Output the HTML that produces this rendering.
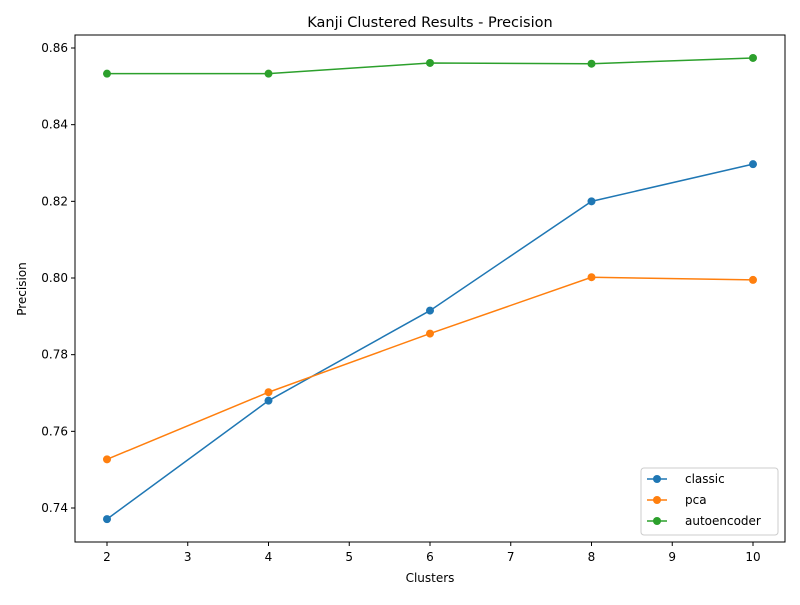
<!DOCTYPE html>
<html><head><meta charset="utf-8"><style>
body{margin:0;background:#fff;}
svg{font-family:"DejaVu Sans","Liberation Sans",sans-serif;}
</style></head><body>
<svg id="c" width="800" height="600" viewBox="0 0 800 600"></svg>
<script>
const clusters=[2,4,6,8,10];
const classic=[0.7371,0.7680,0.7915,0.8200,0.8297];
const pca=[0.7527,0.7702,0.7855,0.8002,0.7995];
const autoencoder=[0.8533,0.8533,0.8561,0.8559,0.8574];
const xTicks=[2,3,4,5,6,7,8,9,10];
const yTicks=[0.74,0.76,0.78,0.80,0.82,0.84,0.86];
const seriesNames=["classic","pca","autoencoder"];
const seriesColors=["#1f77b4","#ff7f0e","#2ca02c"];

const L=75,R=785,T=35,B=542;
const x=v=>107+(v-2)*80.75;
const y=v=>508-(v-0.74)*3833.33;
const svg=document.getElementById('c');
const NS='http://www.w3.org/2000/svg';
function mk(tag,attrs,parent){const e=document.createElementNS(NS,tag);for(const k in attrs)e.setAttribute(k,attrs[k]);(parent||svg).appendChild(e);return e;}

const frame=mk('rect',{x:L,y:T,width:R-L,height:B-T,fill:'none',stroke:'#000','stroke-width':1});



xTicks.forEach(t=>{
  const g=mk('g',{});
  
  
  mk('line',{x1:x(t),x2:x(t),y1:B,y2:B+4,stroke:'#000'},g);
  const tx=mk('text',{x:x(t),y:B+19,'text-anchor':'middle','font-size':12},g);tx.textContent=t;
});
yTicks.forEach(t=>{
  const g=mk('g',{});
  
  
  mk('line',{x1:L-4,x2:L,y1:y(t),y2:y(t),stroke:'#000'},g);
  const tx=mk('text',{x:L-7,y:y(t)+4,'text-anchor':'end','font-size':12},g);tx.textContent=t.toFixed(2);
});

[classic,pca,autoencoder].forEach((data,i)=>{
  const g=mk('g',{});
  
  
  mk('polyline',{points:data.map((v,j)=>x(clusters[j])+','+y(v)).join(' '),fill:'none',stroke:seriesColors[i],'stroke-width':1.5},g);
  data.forEach((v,j)=>{
    const p=mk('circle',{cx:x(clusters[j]),cy:y(v),r:4,fill:seriesColors[i]},g);
    
    
  });
});

const title=mk('text',{x:430,y:27,'text-anchor':'middle','font-size':14.5});
title.textContent='Kanji Clustered Results - Precision';


const xt=mk('text',{x:430,y:582,'text-anchor':'middle','font-size':12});
xt.textContent='Clusters';


const yt=mk('text',{x:0,y:0,'text-anchor':'middle','font-size':12,transform:'translate(26,289) rotate(-90)'});
yt.textContent='Precision';



const lg=mk('g',{});


mk('rect',{x:641,y:468,width:137,height:67,rx:3,fill:'#fff',stroke:'#ccc'},lg);
seriesNames.forEach((n,i)=>{
  const e=mk('g',{},lg);
  
  
  const yy=479+i*21;
  mk('line',{x1:647,x2:667,y1:yy,y2:yy,stroke:seriesColors[i],'stroke-width':1.5},e);
  mk('circle',{cx:657,cy:yy,r:4,fill:seriesColors[i]},e);
  const t=mk('text',{x:685,y:yy+4,'font-size':12},e);t.textContent=n;
});
</script>
</body></html>
